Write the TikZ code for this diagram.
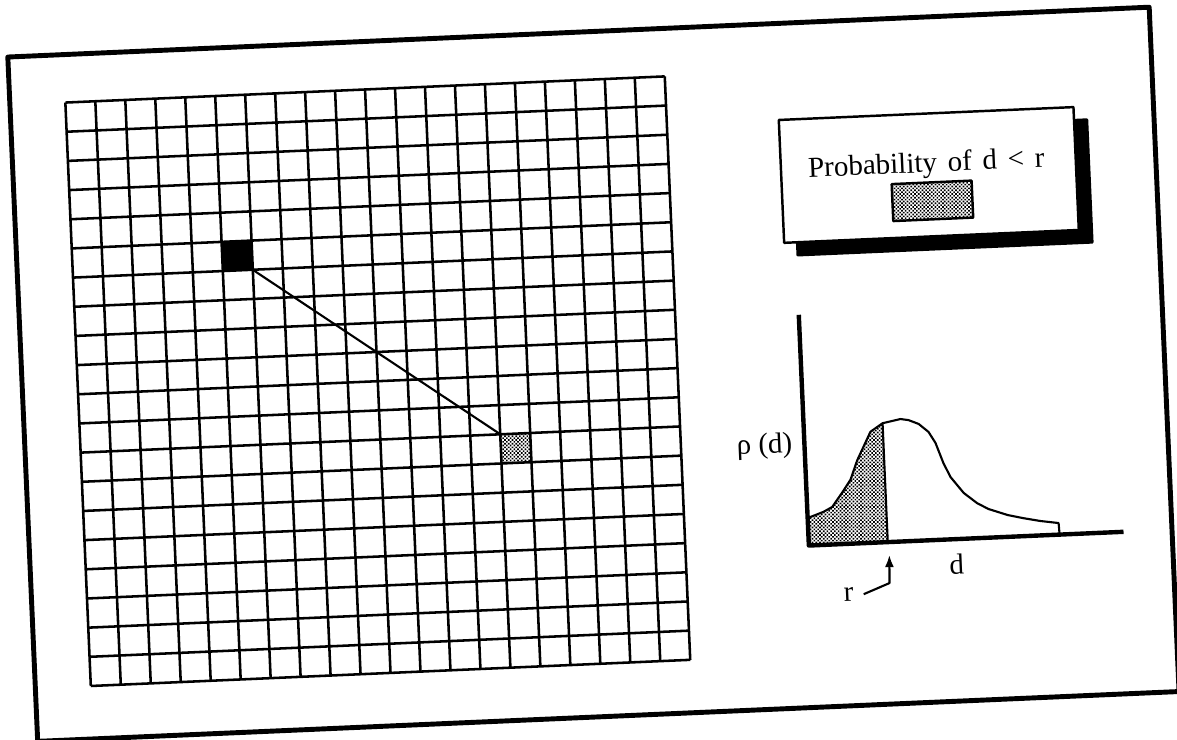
\documentclass[tikz,border=0pt]{standalone}
\usepackage{fontspec}
\setmainfont{Liberation Serif}
\usetikzlibrary{patterns.meta}
\usetikzlibrary{arrows.meta}
\tikzset{
  outerframe/.style={line width=2.8pt},
  gridline/.style={line width=1.45pt},
  gridcell/.style={inner sep=0pt, minimum width=0.6cm, minimum height=0.584cm},
  dotfill/.style={pattern={Dots[distance=1.5pt, radius=0.66pt, angle=45]}},
  linkline/.style={line width=1.2pt},
  legendbox/.style={draw, line width=1.4pt, inner sep=0pt, minimum width=5.9cm, minimum height=2.46cm},
  swatch/.style={draw, line width=1.4pt, dotfill, inner sep=0pt, minimum width=1.6cm, minimum height=0.74cm},
  labeltext/.style={font=\fontsize{16.5}{19}\selectfont, inner sep=0pt},
  curveline/.style={line width=1.2pt},
  axisline/.style={line width=2.5pt},
  pointer/.style={line width=1.2pt, -{Latex[length=0.24cm, width=0.18cm]}}
}

\begin{document}
\begin{tikzpicture}[x=0.02cm, y=0.02cm, line join=round]
  \useasboundingbox (-588.5,-370) rectangle (588.5,370);
  \begin{scope}[rotate=2.5, transform shape]
    % outer frame
    \draw[outerframe] (-566.5,-347) rectangle (576,338);

    % the two marked cells
    \node[gridcell, fill=black] (src) at (-346,129.4) {};
    \node[gridcell, dotfill] (dst) at (-76,-75) {};

    % 20 x 20 grid
    \foreach \i in {0,...,20} {
      \draw[gridline] (-511+30*\i,-294) -- (-511+30*\i,290);
      \draw[gridline] (-511,-294+29.2*\i) -- (89,-294+29.2*\i);
    }
    \draw[linkline] (src.south east) -- (dst.north west);

    % legend with shadow
    \node[legendbox, fill=black] (legendshadow) at (361.5,167) {};
    \node[legendbox, fill=white] (legend) at (348.5,180) {};
    \node[labeltext] (prob) at (346.5,190) {Probability\hspace{0.12em} of\hspace{0.12em} d\hspace{0.12em} <\hspace{0.12em} r};
    \node[swatch] (key) at (351,154) {};

    % distribution of d
    \begin{scope}[shift={(212.5,-185)}]
      \coordinate (o) at (0,0);
      \coordinate (ytop) at (0,231);
      \coordinate (xend) at (315,0);
      \coordinate (rtop) at (79,119);
      \coordinate (rfoot) at (79,0);
      \fill[dotfill] (o) -- (0,27.5) -- (16,33) -- (25,37.5) -- (36,52) -- (44.5,64)
        -- (52,83) -- (66.5,111) -- (rtop) -- (rfoot) -- cycle;
      \draw[curveline] (0,27.5) -- (16,33) -- (25,37.5) -- (36,52) -- (44.5,64)
        -- (52,83) -- (66.5,111) -- (rtop) -- (97,122.4) -- (105,121) -- (115,116.7)
        -- (124.5,108.3) -- (131,97) -- (138,76.6) -- (144.5,62.3) -- (157,45.8)
        -- (170,35) -- (181,28.7) -- (200,21.8) -- (215.5,18) -- (232.5,14.4)
        -- (250.5,11.6) -- (251,0);
      \draw[curveline] (rtop) -- (rfoot);
      \draw[axisline] (ytop) -- (o) -- (xend);

      \node[labeltext] (rho) at (-40,101) {ρ (d)};
      \node[labeltext] (dlab) at (147,-25) {d};
      \node[labeltext] (rlab) at (37.5,-51) {r};
      \coordinate (rbend) at (79,-41);
      \coordinate (rtip) at (80,-13);
      \draw[pointer] ([xshift=0.2cm]rlab.east) -- (rbend) -- (rtip);
    \end{scope}
  \end{scope}
\end{tikzpicture}
\end{document}
